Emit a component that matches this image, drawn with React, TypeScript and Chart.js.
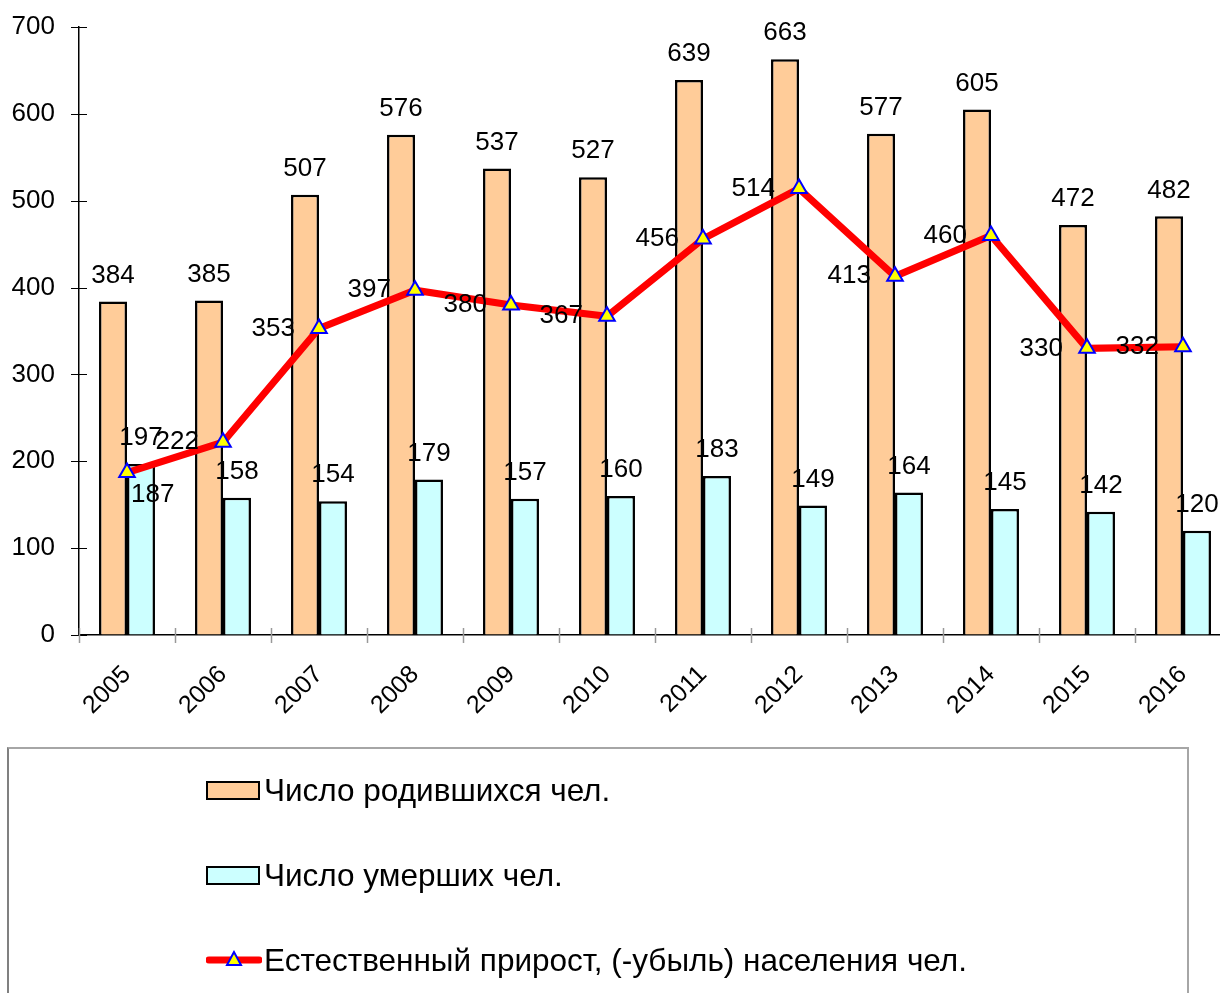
import React, { useEffect, useRef } from "react";
import { Chart, registerables } from "chart.js";
Chart.register(...registerables);

const years = ["2005", "2006", "2007", "2008", "2009", "2010", "2011", "2012", "2013", "2014", "2015", "2016"];
const births = [384, 385, 507, 576, 537, 527, 639, 663, 577, 605, 472, 482];
const deaths = [197, 158, 154, 179, 157, 160, 183, 149, 164, 145, 142, 120];
const natural = [187, 222, 353, 397, 380, 367, 456, 514, 413, 460, 330, 332];
const seriesNames = [
  "Число родившихся чел.",
  "Число умерших чел.",
  "Естественный прирост, (-убыль) населения чел.",
];
const yMin = 0;
const yMax = 700;
const yStep = 100;

const FONT = "Arial, 'Liberation Sans', sans-serif";
const ORANGE = "#FFCC99";
const CYAN = "#CCFFFF";

const tickMarksPlugin = {
  id: "tickMarks",
  afterDraw(chart: any) {
    const { ctx, scales, chartArea } = chart;
    const x = scales.x;
    const y = scales.y;
    ctx.save();
    ctx.strokeStyle = "#000";
    ctx.lineWidth = 1;
    for (let v = yMin; v <= yMax; v += yStep) {
      const py = Math.round(y.getPixelForValue(v)) + 0.5;
      ctx.beginPath();
      ctx.moveTo(chartArea.left - 8, py);
      ctx.lineTo(chartArea.left + 8, py);
      ctx.stroke();
    }
    const cw = x.getPixelForValue(1) - x.getPixelForValue(0);
    ctx.strokeStyle = "#999";
    ctx.lineWidth = 1.5;
    for (let i = 0; i <= years.length; i++) {
      const px = Math.round(x.getPixelForValue(i) - cw / 2) + 0.5;
      ctx.beginPath();
      ctx.moveTo(px, chartArea.bottom - 7);
      ctx.lineTo(px, chartArea.bottom + 8);
      ctx.stroke();
    }
    ctx.restore();
  },
};

const labelsPlugin = {
  id: "valueLabels",
  afterDatasetsDraw(chart: any) {
    const { ctx } = chart;
    ctx.save();
    ctx.font = `26px ${FONT}`;
    ctx.fillStyle = "#000";
    ctx.textBaseline = "middle";
    chart.data.datasets.forEach((ds: any, di: number) => {
      const meta = chart.getDatasetMeta(di);
      meta.data.forEach((el: any, i: number) => {
        const v = ds.data[i];
        if (ds.type === "line") {
          if (i === 0) {
            ctx.textAlign = "left";
            ctx.fillText(String(v), el.x + 4, el.y + 22);
          } else {
            ctx.textAlign = "right";
            ctx.fillText(String(v), el.x - 24, el.y);
          }
        } else {
          ctx.textAlign = "center";
          ctx.fillText(String(v), el.x, el.y - 26);
        }
      });
    });
    ctx.restore();
  },
};

function App() {
  const ref = useRef<HTMLCanvasElement | null>(null);

  useEffect(() => {
    if (!ref.current) return;
    const chart = new Chart(ref.current, {
      type: "bar",
      data: {
        labels: years,
        datasets: [
          {
            type: "line",
            label: seriesNames[2],
            data: natural,
            borderColor: "#FF0000",
            borderWidth: 7,
            pointStyle: "triangle",
            pointRadius: 9,
            pointBackgroundColor: "#FFFF00",
            pointBorderColor: "#0000FF",
            pointBorderWidth: 2,
            tension: 0,
            order: 0,
          } as any,
          {
            type: "bar",
            label: seriesNames[0],
            data: births,
            backgroundColor: ORANGE,
            borderColor: "#000",
            borderWidth: 2.5,
            categoryPercentage: 0.583,
            barPercentage: 1,
            order: 1,
          },
          {
            type: "bar",
            label: seriesNames[1],
            data: deaths,
            backgroundColor: CYAN,
            borderColor: "#000",
            borderWidth: 2.5,
            categoryPercentage: 0.583,
            barPercentage: 1,
            order: 1,
          },
        ],
      },
      options: {
        responsive: false,
        animation: false,
        devicePixelRatio: 1,
        layout: { padding: { top: 27, right: 9, left: 0, bottom: 0 }, autoPadding: false },
        plugins: {
          legend: { display: false },
          tooltip: { enabled: false },
        },
        scales: {
          x: {
            type: "category",
            offset: true,
            grid: { display: false },
            border: { display: true, color: "#000", width: 1.5 },
            ticks: {
              autoSkip: false,
              minRotation: 45,
              maxRotation: 45,
              padding: 17,
              color: "#000",
              font: { family: FONT, size: 25 },
            },
            afterFit: (s: any) => {
              s.height = 113;
            },
          },
          y: {
            min: yMin,
            max: yMax,
            grid: {
              display: true,
              drawOnChartArea: false,
              drawTicks: true,
              tickLength: 20,
              color: "rgba(0,0,0,0)",
            },
            border: { display: true, color: "#000", width: 1.5 },
            ticks: {
              stepSize: yStep,
              padding: 4,
              color: "#000",
              font: { family: FONT, size: 26 },
            },
            afterFit: (s: any) => {
              s.width = 79;
            },
          },
        },
      },
      plugins: [tickMarksPlugin, labelsPlugin],
    } as any);
    return () => chart.destroy();
  }, []);

  const rowTops = [770, 855, 940];
  const swatch = (i: number) => {
    if (i < 2) {
      return (
        <div
          style={{
            width: 50,
            height: 15,
            border: "2px solid #000",
            background: i === 0 ? ORANGE : CYAN,
          }}
        />
      );
    }
    return (
      <svg width={56} height={22} style={{ display: "block" }}>
        <line x1={3} y1={11} x2={53} y2={11} stroke="#FF0000" strokeWidth={7} strokeLinecap="round" />
        <polygon points="28,3 21,16 35,16" fill="#FFFF00" stroke="#0000FF" strokeWidth={2} />
      </svg>
    );
  };

  return (
    <div
      style={{
        position: "fixed",
        left: 0,
        top: 0,
        width: 1220,
        height: 993,
        overflow: "hidden",
        background: "#fff",
      }}
    >
      <canvas
        ref={ref}
        width={1240}
        height={748}
        style={{ position: "absolute", left: 0, top: 0, width: 1240, height: 748 }}
      />
      <div
        style={{
          position: "absolute",
          left: 7,
          top: 747,
          width: 1182,
          height: 320,
          borderTop: "2px solid #a6a6a6",
          borderLeft: "2px solid #808080",
          borderRight: "2px solid #a6a6a6",
          boxSizing: "border-box",
        }}
      />
      {seriesNames.map((name, i) => (
        <div
          key={name}
          style={{
            position: "absolute",
            left: 206,
            top: rowTops[i],
            height: 40,
            display: "flex",
            alignItems: "center",
            whiteSpace: "nowrap",
          }}
        >
          <div style={{ width: 58, display: "flex", alignItems: "center" }}>{swatch(i)}</div>
          <span style={{ fontFamily: FONT, fontSize: 31.5, color: "#000" }}>{name}</span>
        </div>
      ))}
    </div>
  );
}

export default App;
